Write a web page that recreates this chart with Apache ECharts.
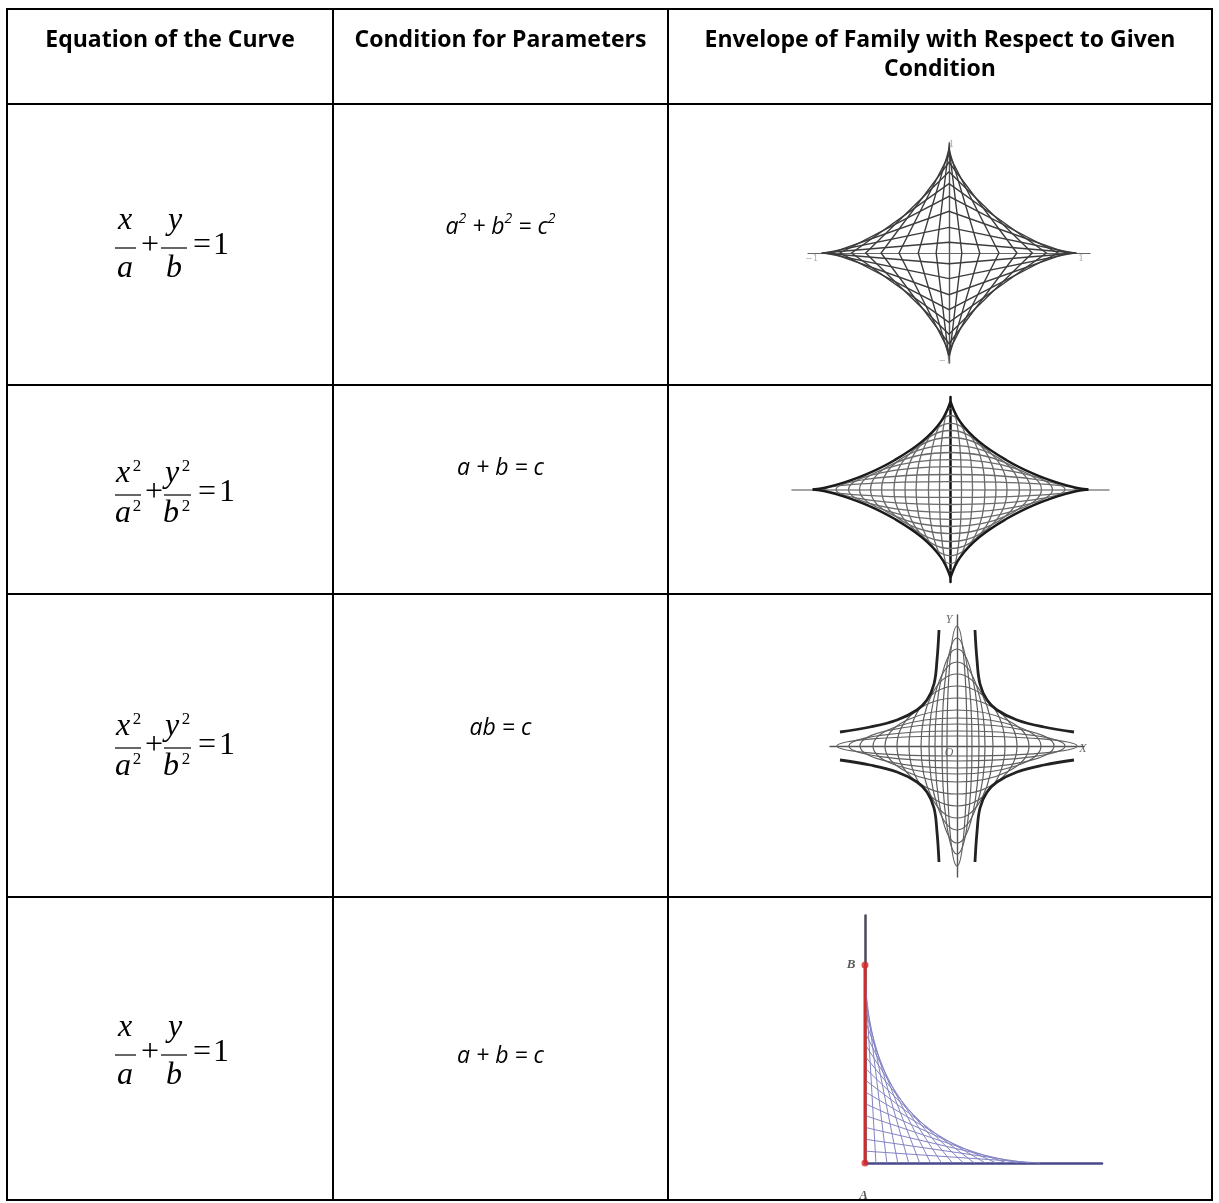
<!DOCTYPE html>
<html>
<head>
<meta charset="utf-8">
<script src="https://cdn.jsdelivr.net/npm/echarts@6/dist/echarts.min.js"></script>
<style>
  html, body { margin: 0; padding: 0; background: #fff; }
  #main { width: 1219px; height: 1203px; }
</style>
</head>
<body>
<div id="main"></div>
<script>
// table frame
const colEdges = [7, 333, 668, 1212];
const rowEdges = [9, 104, 385, 594, 897, 1200];
const headers = ['Equation of the Curve', 'Condition for Parameters', 'Envelope of Family with Respect to Given\nCondition'];

// row contents
const squaredEq = [false, true, true, false];
const conditions = [
  '{i|a}{s|2}{i| + b}{s|2}{i| = c}{s|2}',
  '{i|a + b = c}',
  '{i|ab = c}',
  '{i|a + b = c}'
];
const barYs = [248, 495, 748, 1055];
const condYs = [227, 468, 728, 1056];

// row 1: lines x/a + y/b = 1 with a^2 + b^2 = c^2 (intercepts, c = 1)
const ladderA = [0.995, 0.97, 0.92, 0.85, 0.76, 0.65, 0.53, 0.39, 0.24, 0.1];
const ladderB = [0.1, 0.24, 0.39, 0.53, 0.65, 0.76, 0.85, 0.92, 0.97, 0.995];
const ladderTicks = [['−1', -1.07, -0.05], ['1', 1.03, -0.05], ['1', 0.02, 1.01], ['−1', -0.03, -1.01]];

// row 2: ellipses with a + b = c (semi-axes, c = 1)
const sumA = [0.08, 0.16, 0.25, 0.33, 0.41, 0.5, 0.58, 0.66, 0.74, 0.83, 0.91];
const sumB = [0.92, 0.84, 0.75, 0.67, 0.59, 0.5, 0.42, 0.34, 0.26, 0.17, 0.09];
const sumEnvelope = [[0, 1], [0.07, 0.77], [0.21, 0.54], [0.41, 0.33], [0.6, 0.18], [0.77, 0.08], [0.91, 0.02], [1, 0]];

// row 3: ellipses with ab = c (semi-axes)
const prodA = [10, 15, 22, 28, 36, 48, 60, 72, 84, 97, 108, 120];
const prodB = [120, 108, 97, 84, 72, 60, 48, 36, 28, 22, 15, 10];
const prodEnvelope = [[18, 116], [20, 86], [23, 62], [30, 46], [40, 36], [60, 26], [87, 19], [117, 14]];
const prodLabels = [['Y', -8, 126], ['X', 126, -3], ['O', -8, -7]];

// row 4: lines x/a + y/b = 1 with a + b = c (intercepts, c = 1)
const lineA = [0.06, 0.12, 0.18, 0.24, 0.3, 0.36, 0.42, 0.48, 0.54, 0.6, 0.66, 0.72, 0.78, 0.84, 0.9, 0.96];
const lineB = [0.96, 0.9, 0.84, 0.78, 0.72, 0.66, 0.6, 0.54, 0.48, 0.42, 0.36, 0.3, 0.24, 0.18, 0.12, 0.06];
const pointsAB = [['A', 0, 0], ['B', 0, 1]];

const quadrants = [[1, 1], [-1, 1], [-1, -1], [1, -1]];

const chart = echarts.init(document.getElementById('main'));

// --- table graphics ---
const graphics = [];
colEdges.forEach(x => graphics.push({
  type: 'line', shape: { x1: x, y1: rowEdges[0] - 1, x2: x, y2: rowEdges[rowEdges.length - 1] + 1 },
  style: { stroke: '#000', lineWidth: 2 }
}));
rowEdges.forEach(y => graphics.push({
  type: 'line', shape: { x1: colEdges[0], y1: y, x2: colEdges[colEdges.length - 1], y2: y },
  style: { stroke: '#000', lineWidth: 2 }
}));
headers.forEach((h, i) => graphics.push({
  type: 'text', x: (colEdges[i] + colEdges[i + 1]) / 2, y: 26,
  style: {
    text: h, fontFamily: 'Open Sans', fontWeight: 'bold', fontSize: 23, lineHeight: 29,
    fill: '#000', align: 'center', verticalAlign: 'top'
  }
}));

const serif = 'Liberation Serif';
function eqText(text, x, y, italic, size) {
  return {
    type: 'text', x: x, y: y,
    style: {
      text: text, fontFamily: serif, fontStyle: italic ? 'italic' : 'normal', fontSize: size || 32,
      fill: '#000', align: 'center', verticalAlign: 'middle'
    }
  };
}
function bar(x1, x2, y) {
  return { type: 'line', shape: { x1: x1, y1: y, x2: x2, y2: y }, style: { stroke: '#000', lineWidth: 1.2 } };
}
squaredEq.forEach((sq, r) => {
  const y = barYs[r];
  if (!sq) {
    graphics.push(bar(115, 136, y), eqText('x', 125, y - 27, true), eqText('a', 125, y + 21, true));
    graphics.push(eqText('+', 150, y - 2, false));
    graphics.push(bar(161, 187, y), eqText('y', 175, y - 27, true), eqText('b', 174, y + 21, true));
    graphics.push(eqText('=', 202, y - 2, false), eqText('1', 221, y - 2, false));
  } else {
    graphics.push(bar(115, 141, y), eqText('x', 123, y - 21, true), eqText('a', 123, y + 19, true));
    graphics.push(eqText('2', 137, y - 28, false, 17), eqText('2', 137, y + 12, false, 17));
    graphics.push(eqText('+', 154, y - 2, false));
    graphics.push(bar(164, 191, y), eqText('y', 172, y - 21, true), eqText('b', 171, y + 19, true));
    graphics.push(eqText('2', 186, y - 28, false, 17), eqText('2', 186, y + 12, false, 17));
    graphics.push(eqText('=', 207, y - 2, false), eqText('1', 227, y - 2, false));
  }
});
conditions.forEach((c, r) => graphics.push({
  type: 'text', x: (colEdges[1] + colEdges[2]) / 2, y: condYs[r],
  style: {
    text: c, align: 'center', verticalAlign: 'middle', fill: '#000',
    rich: {
      i: { fontFamily: 'Open Sans', fontStyle: 'italic', fontSize: 23, lineHeight: 30, verticalAlign: 'middle' },
      s: { fontFamily: 'Open Sans', fontStyle: 'italic', fontSize: 14, lineHeight: 16, verticalAlign: 'top' }
    }
  }
}));

// --- plot grids ---
const grids = [
  { left: 808, top: 143, width: 282, height: 220 },
  { left: 792, top: 397, width: 317, height: 185 },
  { left: 830, top: 615, width: 254, height: 262 },
  { left: 865, top: 915.5, width: 237, height: 247.5 }
];
const xRanges = [[-1.1, 1.1], [-1.15, 1.15], [-127, 127], [0, 1.3]];
const yRanges = [[-1.03, 1.03], [-1.05, 1.05], [-131, 131], [0, 1.25]];
const xLine = [{ color: '#666', width: 1.2 }, { color: '#888', width: 1.5 }, { color: '#555', width: 1.4 }, { color: '#48488c', width: 2.5 }];
const yLine = [{ color: '#555', width: 1.4 }, { color: '#111', width: 2.5 }, { color: '#555', width: 1.4 }, { color: '#4a4a58', width: 2.5 }];

function axis(i, range, line) {
  return {
    type: 'value', gridIndex: i, min: range[0], max: range[1],
    axisLine: { show: true, onZero: true, lineStyle: line },
    axisTick: { show: false }, axisLabel: { show: false }, splitLine: { show: false }
  };
}

function ellipseItem(color, width) {
  return function (params, api) {
    const c = api.coord([0, 0]);
    const s = api.size([api.value(0), api.value(1)]);
    return {
      type: 'ellipse', shape: { cx: c[0], cy: c[1], rx: s[0], ry: s[1] },
      style: { fill: 'none', stroke: color, lineWidth: width }
    };
  };
}

function envelopeSeries(idx, pts, color, width) {
  return quadrants.map(q => ({
    type: 'line', xAxisIndex: idx, yAxisIndex: idx, smooth: 0.4, showSymbol: false, silent: true,
    data: pts.map(p => [p[0] * q[0], p[1] * q[1]]),
    lineStyle: { color: color, width: width }, z: 3
  }));
}

function labelSeries(idx, items, style) {
  return {
    type: 'scatter', xAxisIndex: idx, yAxisIndex: idx, symbolSize: 0, silent: true,
    data: items.map(t => ({ name: t[0], value: [t[1], t[2]] })),
    label: Object.assign({ show: true, position: 'inside', formatter: '{b}' }, style)
  };
}

const series = [
  {
    type: 'custom', xAxisIndex: 0, yAxisIndex: 0,
    data: ladderA.map((a, i) => [a, ladderB[i]]),
    renderItem: function (params, api) {
      const a = api.value(0), b = api.value(1);
      const pts = [[a, 0], [0, b], [-a, 0], [0, -b]].map(p => api.coord(p));
      return { type: 'polygon', shape: { points: pts }, style: { fill: 'none', stroke: '#3c3c3c', lineWidth: 1.4 } };
    }
  },
  labelSeries(0, ladderTicks, { color: '#999', fontSize: 9, fontFamily: 'DejaVu Serif' }),
  {
    type: 'custom', xAxisIndex: 1, yAxisIndex: 1,
    data: sumA.map((a, i) => [a, sumB[i]]),
    renderItem: ellipseItem('#6a6a6a', 1.3)
  },
  ...envelopeSeries(1, sumEnvelope, '#1a1a1a', 2.4),
  {
    type: 'custom', xAxisIndex: 2, yAxisIndex: 2,
    data: prodA.map((a, i) => [a, prodB[i]]),
    renderItem: ellipseItem('#5e5e5e', 1.2)
  },
  ...envelopeSeries(2, prodEnvelope, '#222', 2.8),
  labelSeries(2, prodLabels, { color: '#444', fontSize: 12, fontFamily: serif, fontStyle: 'italic' }),
  {
    type: 'custom', xAxisIndex: 3, yAxisIndex: 3,
    data: lineA.map((a, i) => [a, lineB[i]]),
    renderItem: function (params, api) {
      const p1 = api.coord([0, api.value(1)]);
      const p2 = api.coord([api.value(0), 0]);
      return { type: 'line', shape: { x1: p1[0], y1: p1[1], x2: p2[0], y2: p2[1] }, style: { stroke: '#8484c4', lineWidth: 1 } };
    }
  },
  {
    type: 'line', xAxisIndex: 3, yAxisIndex: 3, showSymbol: false, silent: true, z: 4,
    data: pointsAB.map(p => [p[1], p[2]]),
    lineStyle: { color: '#d42a2a', width: 3 }
  },
  {
    type: 'scatter', xAxisIndex: 3, yAxisIndex: 3, symbolSize: 7, silent: true, z: 5,
    itemStyle: { color: '#d42a2a' },
    data: pointsAB.map(p => ({ name: p[0], value: [p[1], p[2]] })),
    label: {
      show: true, formatter: '{b}', fontFamily: serif, fontStyle: 'italic', fontWeight: 'bold', fontSize: 13, color: '#333',
      position: 'left', distance: 6
    },
    labelLayout: function (params) {
      return params.dataIndex === 0 ? { x: params.rect.x + 2, y: params.rect.y + 30, align: 'center' } : {};
    }
  }
];

chart.setOption({
  animation: false,
  backgroundColor: '#fff',
  grid: grids,
  xAxis: grids.map((g, i) => axis(i, xRanges[i], xLine[i])),
  yAxis: grids.map((g, i) => axis(i, yRanges[i], yLine[i])),
  series: series,
  graphic: graphics
});
</script>
</body>
</html>
